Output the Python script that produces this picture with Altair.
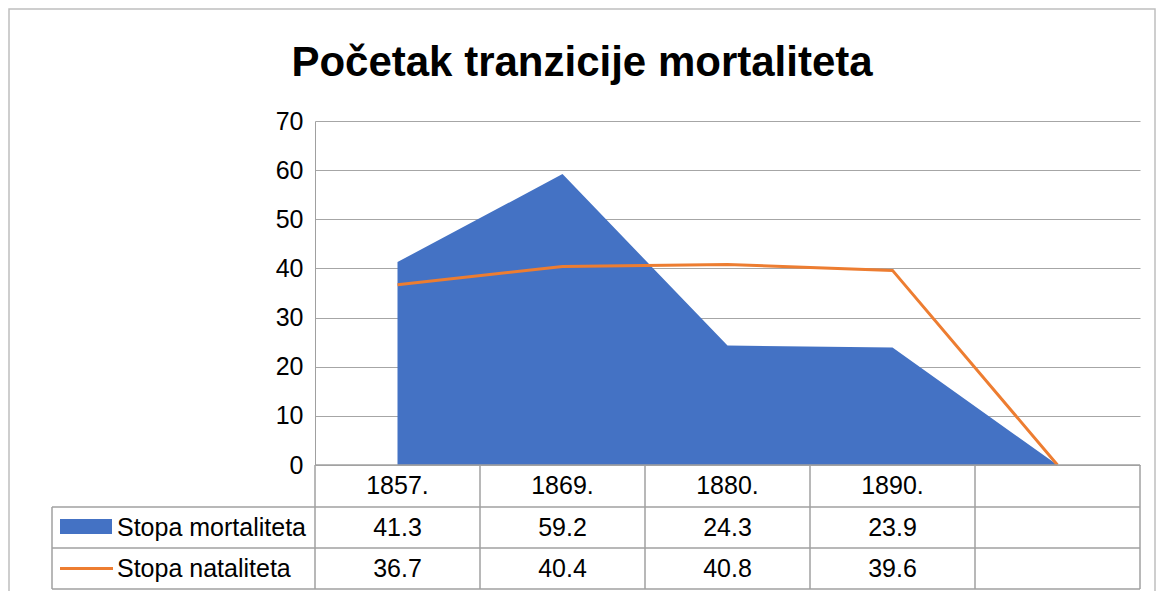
import altair as alt
import pandas as pd

# ---- data ----
categories = ["1857.", "1869.", "1880.", "1890.", ""]
mortality = [41.3, 59.2, 24.3, 23.9, None]
natality = [36.7, 40.4, 40.8, 39.6, None]
series_names = ["Stopa mortaliteta", "Stopa nataliteta"]
title_text = "Početak tranzicije mortaliteta"
y_ticks = [0, 10, 20, 30, 40, 50, 60, 70]

# ---- styling ----
FONT = "Liberation Sans"
BLUE = "#4472C4"
ORANGE = "#ED7D31"
GRID = "#a6a6a6"
LINE = "#a0a0a0"
FS = 25
W, H = 825, 344
step = W / len(categories)

df = pd.DataFrame({
    "cat": categories,
    "mort": [v if v is not None else 0 for v in mortality],
    "nat": [v if v is not None else 0 for v in natality],
    "mort_label": ["" if v is None else str(v) for v in mortality],
    "nat_label": ["" if v is None else str(v) for v in natality],
})

xenc = alt.X("cat:N", scale=alt.Scale(type="point", padding=0.5, domain=categories), axis=None)
yaxis = alt.Axis(values=y_ticks, title=None, grid=True, gridColor=GRID, gridWidth=1,
                 domain=True, domainColor=LINE, domainWidth=1, ticks=False,
                 labelFont=FONT, labelFontSize=FS, labelColor="#000000", labelPadding=12)
yscale = alt.Scale(domain=[0, 70], nice=False)

base = alt.Chart(df)
one = alt.Chart(pd.DataFrame({"a": [0]}))

area = base.mark_area(color=BLUE, opacity=1).encode(
    x=xenc, y=alt.Y("mort:Q", scale=yscale, axis=yaxis))
line = base.mark_line(color=ORANGE, strokeWidth=3).encode(
    x=xenc, y=alt.Y("nat:Q", scale=yscale, axis=yaxis))

# data table
hlines = []
for yv, x0 in [(H, 0), (386, -263), (427, -263), (468, -263)]:
    hlines.append(one.mark_rule(color=LINE, strokeWidth=1.5).encode(
        x=alt.value(x0), x2=alt.value(W), y=alt.value(yv)))
vlines = base.mark_rule(color=LINE, strokeWidth=1.5, xOffset=-step / 2).encode(
    x=xenc, y=alt.value(H), y2=alt.value(468))
vright = one.mark_rule(color=LINE, strokeWidth=1.5).encode(
    x=alt.value(W), y=alt.value(H), y2=alt.value(468))
vleft = one.mark_rule(color=LINE, strokeWidth=1.5).encode(
    x=alt.value(-263), y=alt.value(386), y2=alt.value(468))

txt = dict(font=FONT, fontSize=FS, color="#000000", baseline="middle", align="center")
hdr = base.mark_text(**txt).encode(x=xenc, y=alt.value(365), text="cat:N")
row1 = base.mark_text(**txt).encode(x=xenc, y=alt.value(406.5), text="mort_label:N")
row2 = base.mark_text(**txt).encode(x=xenc, y=alt.value(447.5), text="nat_label:N")

sw1 = one.mark_rect(color=BLUE).encode(
    x=alt.value(-255), x2=alt.value(-203), y=alt.value(398), y2=alt.value(413))
sw2 = one.mark_rule(color=ORANGE, strokeWidth=3).encode(
    x=alt.value(-255), x2=alt.value(-202), y=alt.value(447.5))
lab = dict(font=FONT, fontSize=FS, color="#000000", baseline="middle", align="left")
lab1 = one.mark_text(**lab, text=series_names[0]).encode(x=alt.value(-198), y=alt.value(406.5))
lab2 = one.mark_text(**lab, text=series_names[1]).encode(x=alt.value(-198), y=alt.value(447.5))

title = one.mark_text(font=FONT, fontSize=42, fontWeight="bold", color="#000000",
                      baseline="middle", align="center", text=title_text).encode(
    x=alt.value(267), y=alt.value(-58))

frame = one.mark_rect(fillOpacity=0, stroke="#bfbfbf", strokeWidth=1.5).encode(
    x=alt.value(-306), x2=alt.value(840), y=alt.value(-112), y2=alt.value(490))

chart = alt.layer(
    frame, area, line, *hlines, vlines, vright, vleft, hdr, row1, row2,
    sw1, sw2, lab1, lab2, title
).properties(
    width=W, height=H,
    padding={"left": 307, "top": 113, "right": 17, "bottom": 126},
    autosize=alt.AutoSizeParams(type="none"),
).configure_view(strokeWidth=0)

chart.save("out.html", embed_options={"renderer": "svg", "actions": False})
